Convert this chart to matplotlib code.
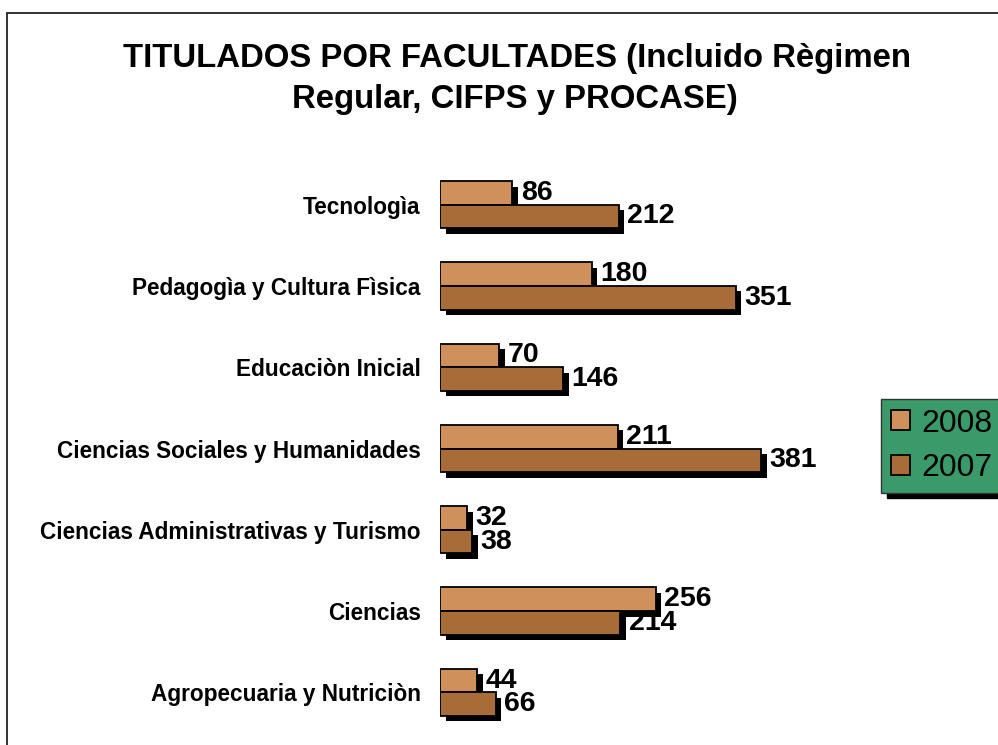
import matplotlib
matplotlib.use("Agg")
import matplotlib.pyplot as plt
import matplotlib.patheffects as pe
from matplotlib.patches import Rectangle, Patch
import numpy as np

plt.rcParams['font.family'] = ['Liberation Sans', 'DejaVu Sans']

categories = ["Tecnologìa", "Pedagogìa y Cultura Fìsica", "Educaciòn Inicial",
              "Ciencias Sociales y Humanidades", "Ciencias Administrativas y Turismo",
              "Ciencias", "Agropecuaria y Nutriciòn"]
values_2008 = [86, 180, 70, 211, 32, 256, 44]
values_2007 = [212, 351, 146, 381, 38, 214, 66]
series_names = ["2008", "2007"]
title_lines = ["TITULADOS POR FACULTADES (Incluido Règimen", "Regular, CIFPS y PROCASE)"]

W, H = 998, 745
fig = plt.figure(figsize=(W/100, H/100), dpi=100)

# figure border
fig.patches.append(Rectangle((7/W, -0.01), 1.0, 1 - 13/H + 0.01, transform=fig.transFigure,
                             fill=False, edgecolor='#222222', linewidth=1.3))

ax_left, ax_right = 440/W, 861.5/W
ax_top, ax_bot = 1 - 164/H, 1 - 733/H
ax = fig.add_axes([ax_left, ax_bot, ax_right - ax_left, ax_top - ax_bot])

y = np.arange(len(categories))
h = 0.29
c2008 = '#D0905C'
c2007 = '#A86C38'
shadow = [pe.SimplePatchShadow(offset=(4, -4), shadow_rgbFace='black', alpha=1.0), pe.Normal()]

b1 = ax.barh(y - h/2, values_2008, height=h, color=c2008, edgecolor='black', linewidth=1.3,
             path_effects=shadow, label=series_names[0])
b2 = ax.barh(y + h/2, values_2007, height=h, color=c2007, edgecolor='black', linewidth=1.3,
             path_effects=shadow, label=series_names[1])
ax.bar_label(b1, padding=6, fontsize=20.5, fontweight='bold')
ax.bar_label(b2, padding=6, fontsize=20.5, fontweight='bold')

ax.set_xlim(0, 500)
ax.set_ylim(len(categories) - 0.5, -0.5)
ax.set_yticks(y)
ax.set_yticklabels(categories, fontsize=16.3, fontweight='bold')
ax.tick_params(axis='y', length=0, pad=14)
ax.set_xticks([])
for s in ax.spines.values():
    s.set_visible(False)
ax.patch.set_alpha(0)

fig.text(517/W, 1 - 67/H, title_lines[0], ha='center', va='baseline', fontsize=23.7, fontweight='bold')
fig.text(515/W, 1 - 108/H, title_lines[1], ha='center', va='baseline', fontsize=23.7, fontweight='bold')

handles = [Patch(facecolor=c2008, edgecolor='black', linewidth=1.3),
           Patch(facecolor=c2007, edgecolor='black', linewidth=1.3)]
leg = fig.legend(handles, series_names, loc='upper left', bbox_to_anchor=(881/W, 1 - 399/H),
                 fontsize=23, frameon=True, fancybox=False,
                 shadow={'ox': 4, 'oy': -4, 'color': 'black', 'alpha': 1},
                 facecolor='#3A9A6A', edgecolor='#333333', framealpha=1,
                 handlelength=0.6, handleheight=0.6, handletextpad=0.35, labelspacing=0.45,
                 borderpad=0.3, borderaxespad=0)

fig.savefig("out.png", dpi=100)
